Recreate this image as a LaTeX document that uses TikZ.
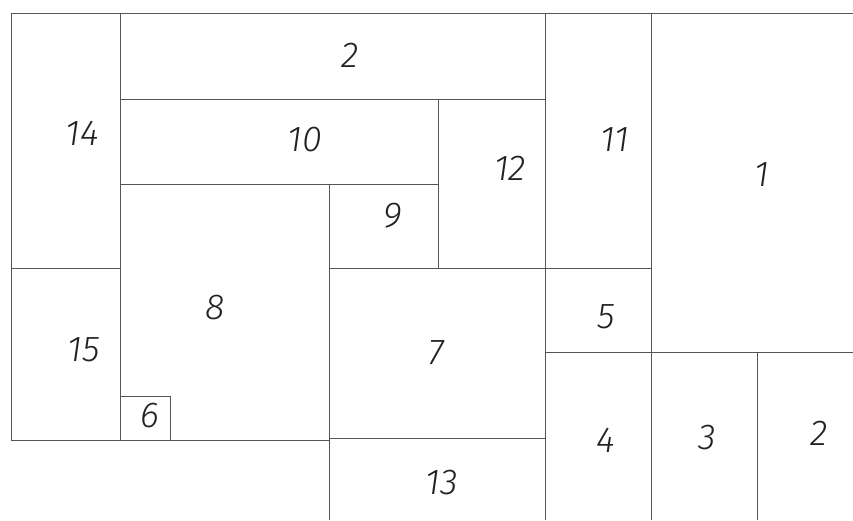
\documentclass[tikz,border=0pt]{standalone}
\usepackage{fontspec}
\usepackage{tikz}
\newfontfamily\numfont{Fira Sans Light Italic}
\definecolor{edge}{HTML}{555555}
\definecolor{digit}{HTML}{222222}
\tikzset{
  plate/.style={draw=edge, line width=1pt},
  partno/.style={font=\numfont\fontsize{36}{38}\selectfont, text=digit, inner sep=0pt}
}
\begin{document}
\begin{tikzpicture}[x=1pt,y=-1pt]
  \useasboundingbox (0,0) rectangle (853,520);
  % outline of the sheet
  \draw[plate] (853,13) -- (11,13) -- (11,440) -- (329,440);
  \draw[plate] (120,13) -- (120,440);
  \draw[plate] (11,268) -- (120,268);
  % strips 2, 10, 9, 12
  \draw[plate] (120,99) -- (545,99);
  \draw[plate] (120,184) -- (438,184);
  \draw[plate] (438,99) -- (438,268);
  \draw[plate] (329,184) -- (329,520);
  \draw[plate] (329,268) -- (651,268);
  \draw[plate] (329,438) -- (545,438);
  % right columns
  \draw[plate] (545,13) -- (545,520);
  \draw[plate] (651,13) -- (651,520);
  \draw[plate] (545,352) -- (853,352);
  \draw[plate] (757,352) -- (757,520);
  % small piece 6
  \draw[plate] (120,396) -- (170,396) -- (170,440);
  % part numbers
  \foreach \n/\px/\py in {14/82/133, 2/350/55, 10/305/140, 12/510/168,
      11/615/140, 1/762/175, 9/393/216, 8/215/308, 15/84/350, 7/436/353,
      5/606/317, 6/150/416, 4/606/440, 3/707/438, 2/819/433, 13/442/483}
    \node[partno] (p\n-\px) at (\px,\py) {\n};
\end{tikzpicture}
\end{document}
